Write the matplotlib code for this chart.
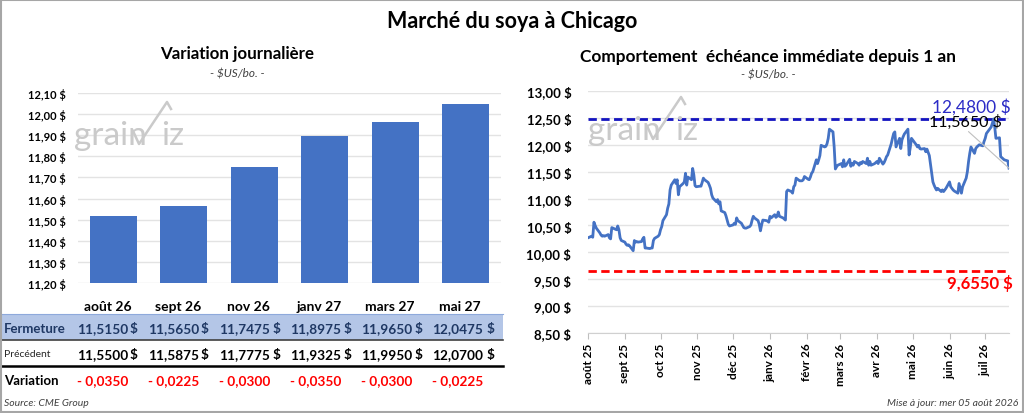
import matplotlib
matplotlib.use("Agg")
import matplotlib.pyplot as plt
import matplotlib.dates as mdates
import matplotlib.transforms as mtrans
from matplotlib.patches import Rectangle
from matplotlib.lines import Line2D
from matplotlib.ticker import FuncFormatter
import numpy as np
import pandas as pd

plt.rcParams['font.family'] = ['Lato', 'DejaVu Sans']

# variation journaliere
echeances = ['août 26', 'sept 26', 'nov 26', 'janv 27', 'mars 27', 'mai 27']
fermeture = [11.5150, 11.5650, 11.7475, 11.8975, 11.9650, 12.0475]
precedent = [11.5500, 11.5875, 11.7775, 11.9325, 11.9950, 12.0700]

# echeance immediate, une valeur par seance depuis le 1er aout 2025
debut = '2025-08-01'
cours = [
    10.27, 10.30, 10.28, 10.56, 10.50, 10.45, 10.36, 10.32, 10.30, 10.31,
    10.30, 10.33, 10.27, 10.25, 10.46, 10.45, 10.42, 10.49, 10.42, 10.27,
    10.22, 10.19, 10.15, 10.13, 10.14, 10.12, 10.03, 10.22, 10.19, 10.20,
    10.19, 10.20, 10.25, 10.28, 10.08, 10.08, 10.07, 10.08, 10.08, 10.22,
    10.26, 10.30, 10.33, 10.42, 10.48, 10.59, 10.70, 10.82, 10.90, 11.16,
    11.25, 11.35, 11.28, 11.35, 11.07, 11.22, 11.28, 11.31, 11.47, 11.25,
    11.40, 11.35, 11.56, 11.44, 11.24, 11.22, 11.23, 11.23, 11.30, 11.38,
    11.35, 11.30, 11.25, 11.19, 11.07, 11.01, 10.94, 10.98, 10.90, 10.94,
    10.77, 10.74, 10.68, 10.60, 10.52, 10.49, 10.51, 10.54, 10.52, 10.64,
    10.59, 10.54, 10.50, 10.46, 10.45, 10.45, 10.48, 10.51, 10.60, 10.67,
    10.64, 10.59, 10.52, 10.40, 10.51, 10.60, 10.59, 10.58, 10.56, 10.67,
    10.64, 10.70, 10.65, 10.67, 10.75, 10.67, 10.64, 10.62, 10.60, 11.13,
    11.16, 11.13, 11.10, 11.22, 11.25, 11.38, 11.33, 11.33, 11.33, 11.35,
    11.41, 11.36, 11.35, 11.40, 11.47, 11.50, 11.72, 11.65, 11.72, 11.80,
    11.99, 11.96, 11.97, 12.02, 12.12, 12.29, 12.24, 11.96, 11.55, 11.59,
    11.62, 11.65, 11.59, 11.72, 11.60, 11.62, 11.73, 11.60, 11.65, 11.62,
    11.69, 11.65, 11.62, 11.67, 11.65, 11.69, 11.65, 11.75, 11.62, 11.69,
    11.62, 11.65, 11.67, 11.69, 11.65, 11.75, 11.64, 11.67, 11.72, 11.78,
    11.81, 12.02, 12.12, 12.21, 12.24, 11.96, 12.12, 11.93, 12.09, 12.15,
    12.20, 12.29, 11.81, 11.95, 12.12, 12.09, 12.00, 11.96, 11.99, 11.93,
    11.92, 11.93, 11.87, 11.92, 11.86, 11.80, 11.31, 11.25, 11.20, 11.16,
    11.19, 11.13, 11.16, 11.13, 11.16, 11.19, 11.31, 11.22, 11.19, 11.16,
    11.14, 11.10, 11.28, 11.19, 11.10, 11.22, 11.38, 11.50, 11.69, 11.84,
    11.96, 11.84, 11.93, 11.96, 11.98, 12.00, 11.98, 12.06, 12.12, 12.21,
    12.24, 12.33, 12.40, 12.48, 12.33, 12.12, 12.13, 11.78, 11.76, 11.74,
    11.72, 11.70, 11.565,
]
haut_1an = 12.48
bas_1an = 9.655

mois_fr = ['janv', 'févr', 'mars', 'avr', 'mai', 'juin',
           'juil', 'août', 'sept', 'oct', 'nov', 'déc']

BLEU = '#4472C4'
W, H = 1024, 414


def fx(px):
    return px / W


def fy(py):
    return 1 - py / H


def dollars(v, dec=2):
    return f"{v:.{dec}f}".replace('.', ',') + ' $'


def chiffre(v):
    return f"{v:.4f}".replace('.', ',')


def logo(fig, x0, y0):
    # filigrane grainViz
    gris = '#CACACA'
    fig.text(fx(x0), fy(y0), 'grain', fontsize=24, color=gris,
             ha='left', va='baseline')
    fig.text(fx(x0 + 87), fy(y0), 'iz', fontsize=24, color=gris,
             ha='left', va='baseline')
    vx = [x0 + 59, x0 + 65, x0 + 93, x0 + 97]
    vy = [y0 - 13, y0, y0 - 42, y0 - 35]
    fig.add_artist(Line2D([fx(v) for v in vx], [fy(v) for v in vy],
                          transform=fig.transFigure, color=gris, lw=1.8))


fig = plt.figure(figsize=(10.24, 4.14), dpi=100)
fig.add_artist(Rectangle((0.001, 0.002), 0.998, 0.995, transform=fig.transFigure,
                         fill=False, ec='#A6A6A6', lw=1.5, zorder=5))

fig.text(fx(512), fy(22), 'Marché du soya à Chicago', ha='center', va='center',
         fontsize=15.5, weight='bold')

# ---- graphique de gauche
fig.text(fx(237), fy(54), 'Variation journalière', ha='center', va='center',
         fontsize=12.2, weight='bold')
fig.text(fx(237), fy(74), '- $US/bo. -', ha='center', va='center',
         fontsize=8.5, style='italic', color='#404040')

ax1 = fig.add_axes([fx(78), fy(284), fx(501) - fx(78), fy(94) - fy(284)])
x = np.arange(len(echeances))
ax1.bar(x, fermeture, width=0.66, color=BLEU, zorder=2)
ax1.set_xlim(-0.5, len(echeances) - 0.5)
ax1.set_ylim(11.2, 12.1)
yt = np.round(np.arange(11.2, 12.11, 0.1), 2)
ax1.set_yticks(yt, [dollars(v) for v in yt], fontweight='bold')
ax1.set_xticks([])
ax1.tick_params(axis='y', length=0, labelsize=8, pad=9)
ax1.grid(axis='y', color='#E3E3E3', lw=1, zorder=0)
for s in ax1.spines.values():
    s.set_visible(False)
logo(fig, 74, 145)

# tableau sous les barres
bt = mtrans.blended_transform_factory(ax1.transData, fig.transFigure)
fig.add_artist(Rectangle((0, fy(341)), fx(503), fy(315) - fy(341),
                         transform=fig.transFigure, fc='#B4C6E7', ec='none',
                         zorder=-2))
fig.add_artist(Line2D([0, fx(503)], [fy(315)] * 2, transform=fig.transFigure,
                      color='#8EA9DB', lw=0.8, zorder=-1))
fig.add_artist(Line2D([0, fx(503)], [fy(341)] * 2, transform=fig.transFigure,
                      color='#404040', lw=1.2, zorder=-1))
fig.add_artist(Line2D([0, fx(503)], [fy(367)] * 2, transform=fig.transFigure,
                      color='#000000', lw=1.8, zorder=-1))

fig.text(fx(4), fy(329), 'Fermeture', ha='left', va='center', fontsize=9.5,
         weight='bold', color='#1F3864')
fig.text(fx(4), fy(355), 'Précédent', ha='left', va='center', fontsize=7.5,
         color='#262626')
fig.text(fx(4), fy(381), 'Variation', ha='left', va='center', fontsize=9.5,
         weight='bold', color='#000000')

for i, (m, f, p) in enumerate(zip(echeances, fermeture, precedent)):
    xn = i + 0.21 + 0.008 * i
    xd = i + 0.34 + 0.012 * i
    ax1.text(i - 0.08, fy(307), m, transform=bt, ha='center', va='center',
             fontsize=10, weight='bold')
    ax1.text(xn, fy(329), chiffre(f), transform=bt, ha='right',
             va='center', fontsize=9.8, weight='bold', color='#1F3864')
    ax1.text(xd, fy(329), '$', transform=bt, ha='right',
             va='center', fontsize=9.8, weight='bold', color='#1F3864')
    ax1.text(xn, fy(355), chiffre(p), transform=bt, ha='right',
             va='center', fontsize=9.8, weight='bold')
    ax1.text(xd, fy(355), '$', transform=bt, ha='right',
             va='center', fontsize=9.8, weight='bold')
    d = f - p
    signe = '- ' if d < 0 else '+ '
    ax1.text(xn, fy(381), signe + chiffre(abs(d)), transform=bt,
             ha='right', va='center', fontsize=9.8, weight='bold', color='#FF0000')

fig.text(fx(4), fy(404), 'Source: CME Group', ha='left', va='center',
         fontsize=7.5, style='italic', color='#404040')

# ---- graphique de droite
fig.text(fx(768), fy(57), 'Comportement  échéance immédiate depuis 1 an',
         ha='center', va='center', fontsize=12.4, weight='bold')
fig.text(fx(768), fy(75), '- $US/bo. -', ha='center', va='center',
         fontsize=8.5, style='italic', color='#404040')

ax2 = fig.add_axes([fx(588), fy(334), fx(1009) - fx(588), fy(92) - fy(334)])
dates = pd.bdate_range(debut, periods=len(cours))
ax2.plot(dates, cours, color=BLEU, lw=2, zorder=3)
ax2.axhline(haut_1an, color='#1414C0', lw=2, ls=(0, (3, 1.6)), zorder=2)
ax2.axhline(bas_1an, color='#FF0000', lw=2, ls=(0, (3, 1.6)), zorder=2)
ax2.set_xlim(dates[0], dates[-1])
ax2.set_ylim(8.5, 13.0)
yt2 = np.arange(8.5, 13.01, 0.5)
ax2.set_yticks(yt2, [dollars(v) for v in yt2], fontweight='bold')
ax2.tick_params(axis='y', length=0, labelsize=9.5, pad=12)
ax2.grid(axis='y', color='#E3E3E3', lw=1, zorder=0)
ax2.xaxis.set_major_locator(mdates.MonthLocator())
ax2.xaxis.set_major_formatter(FuncFormatter(
    lambda v, pos: mois_fr[mdates.num2date(v).month - 1] + ' '
    + mdates.num2date(v).strftime('%y')))
ax2.tick_params(axis='x', length=4, color='#BFBFBF', labelsize=8.5, pad=3,
                labelrotation=90)
for lbl in ax2.get_xticklabels():
    lbl.set_fontweight('bold')
for s in ['left', 'top', 'right']:
    ax2.spines[s].set_visible(False)
ax2.spines['bottom'].set_color('#D0D0D0')

yax = ax2.get_yaxis_transform()
ax2.annotate(dollars(haut_1an, 4), xy=(1.003, haut_1an), xycoords=yax,
             xytext=(0, 3), textcoords='offset points', ha='right', va='bottom',
             fontsize=12.5, color='#2B2BC6')
ax2.annotate(dollars(bas_1an, 4), xy=(1.01, bas_1an), xycoords=yax,
             xytext=(0, -2), textcoords='offset points', ha='right', va='top',
             fontsize=12, weight='bold', color='#FF0000')
ax2.annotate(dollars(cours[-1], 4), xy=(dates[-1], cours[-1]),
             xytext=(0.983, 0.875), textcoords='axes fraction',
             ha='right', va='center', fontsize=11.5, color='#000000',
             arrowprops=dict(arrowstyle='-', color='#BFBFBF', lw=0.8,
                             relpos=(0.5, 0), shrinkA=0, shrinkB=0),
             zorder=5)
logo(fig, 588, 140)

fig.text(fx(1018), fy(404), 'Mise à jour: mer 05 août 2026', ha='right',
         va='center', fontsize=7.5, style='italic', color='#404040')

fig.savefig('out.png', dpi=100)
